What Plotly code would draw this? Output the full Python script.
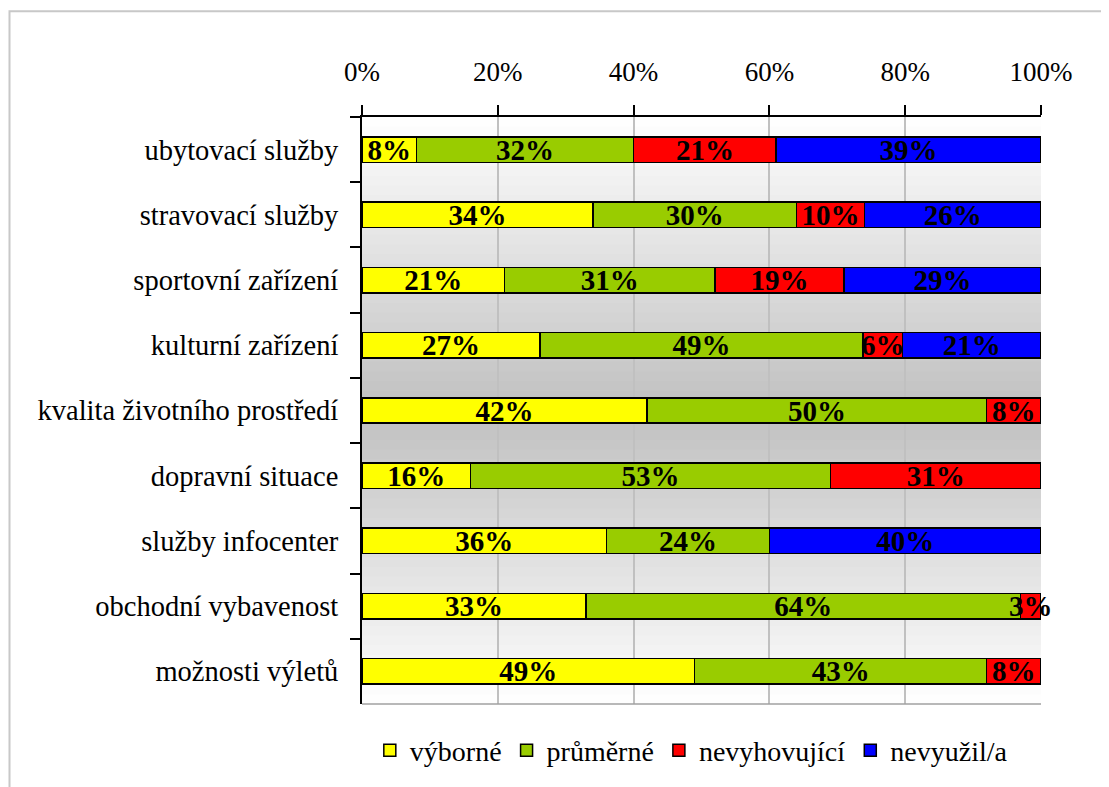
import plotly.graph_objects as go

categories = ["ubytovací služby", "stravovací služby", "sportovní zařízení",
              "kulturní zařízení", "kvalita životního prostředí", "dopravní situace",
              "služby infocenter", "obchodní vybavenost", "možnosti výletů"]
series_names = ["výborné", "průměrné", "nevyhovující", "nevyužil/a"]
vyborne = [8, 34, 21, 27, 42, 16, 36, 33, 49]
prumerne = [32, 30, 31, 49, 50, 53, 24, 64, 43]
nevyhovujici = [21, 10, 19, 6, 8, 31, None, 3, 8]
nevyuzil = [39, 26, 29, 21, None, None, 40, None, None]
colors = ["#FFFF00", "#99CC00", "#FF0000", "#0000FF"]
x_ticks = [0, 20, 40, 60, 80, 100]
x_tick_labels = ["0%", "20%", "40%", "60%", "80%", "100%"]

FONT = "Liberation Serif"
fig = go.Figure()
for name, vals, col in zip(series_names, [vyborne, prumerne, nevyhovujici, nevyuzil], colors):
    fig.add_trace(go.Bar(
        y=categories, x=vals, name=name, orientation="h",
        marker=dict(color=col, line=dict(color="black", width=1.5)),
        text=[f"{v}%" if v else "" for v in vals],
        textposition="inside", insidetextanchor="middle", constraintext="none",
        textangle=0, cliponaxis=False,
        textfont=dict(family=FONT, size=29, color="black", weight="bold"),
        hoverinfo="skip",
    ))

# page body has an 8px margin; figure coordinates are offset accordingly
OFF = 8
W, H = 1109 - OFF, 787 - OFF
L, T = 362 - OFF, 117 - OFF
pw, ph = 679, 594
R = W - L - pw
B = H - T - ph

# gradient background (white -> gray -> white)
shapes = []
N = 60
for i in range(N):
    t = (i + 0.5) / N
    d = abs(t - 0.5) * 2
    g = int(round(192 + (255 - 192) * d))
    shapes.append(dict(type="rect", xref="x domain", yref="y domain",
                       x0=0, x1=1, y0=i / N, y1=(i + 1) / N + 0.002,
                       fillcolor=f"rgb({g},{g},{g})", line=dict(width=0), layer="below"))
# bottom edge line
shapes.append(dict(type="line", xref="x domain", yref="y domain", x0=0, x1=1, y0=0, y1=0,
                   line=dict(color="#a0a0a0", width=1.5), layer="above"))
# outer chart border
shapes.append(dict(type="rect", xref="paper", yref="paper",
                   x0=(1.5 - L) / pw, x1=(1130 - L) / pw,
                   y0=-(B + 30) / ph, y1=1 + (T - 2) / ph,
                   line=dict(color="#c8c8c8", width=2), fillcolor="rgba(0,0,0,0)", layer="below"))

fig.update_layout(
    barmode="stack", barnorm="percent", bargap=0.61,
    width=W, height=H,
    margin=dict(l=L, r=R, t=T, b=B),
    paper_bgcolor="white", plot_bgcolor="white",
    font=dict(family=FONT, size=28, color="black"),
    shapes=shapes,
    showlegend=True,
    legend=dict(orientation="h", x=0.485, xanchor="center", y=-(758 - 711) / ph, yanchor="middle",
                font=dict(family=FONT, size=28, color="black"), traceorder="normal",
                itemwidth=30, tracegroupgap=0),
    xaxis=dict(side="top", range=[0, 100], tickvals=x_ticks, ticktext=x_tick_labels,
               showgrid=True, gridcolor="#c0c0c0", gridwidth=1.5,
               showline=True, linecolor="black", linewidth=2,
               ticks="outside", ticklen=10, tickcolor="black", tickwidth=2,
               ticklabelstandoff=13, zeroline=False,
               tickfont=dict(family=FONT, size=27, color="black")),
    yaxis=dict(categoryorder="array", categoryarray=categories, autorange="reversed",
               showline=True, linecolor="black", linewidth=2,
               ticks="outside", ticklen=10, tickcolor="black", tickwidth=2,
               tickson="boundaries", showgrid=False, ticklabelstandoff=16,
               tickfont=dict(family=FONT, size=28.5, color="black")),
)
fig.write_html("out.html")
